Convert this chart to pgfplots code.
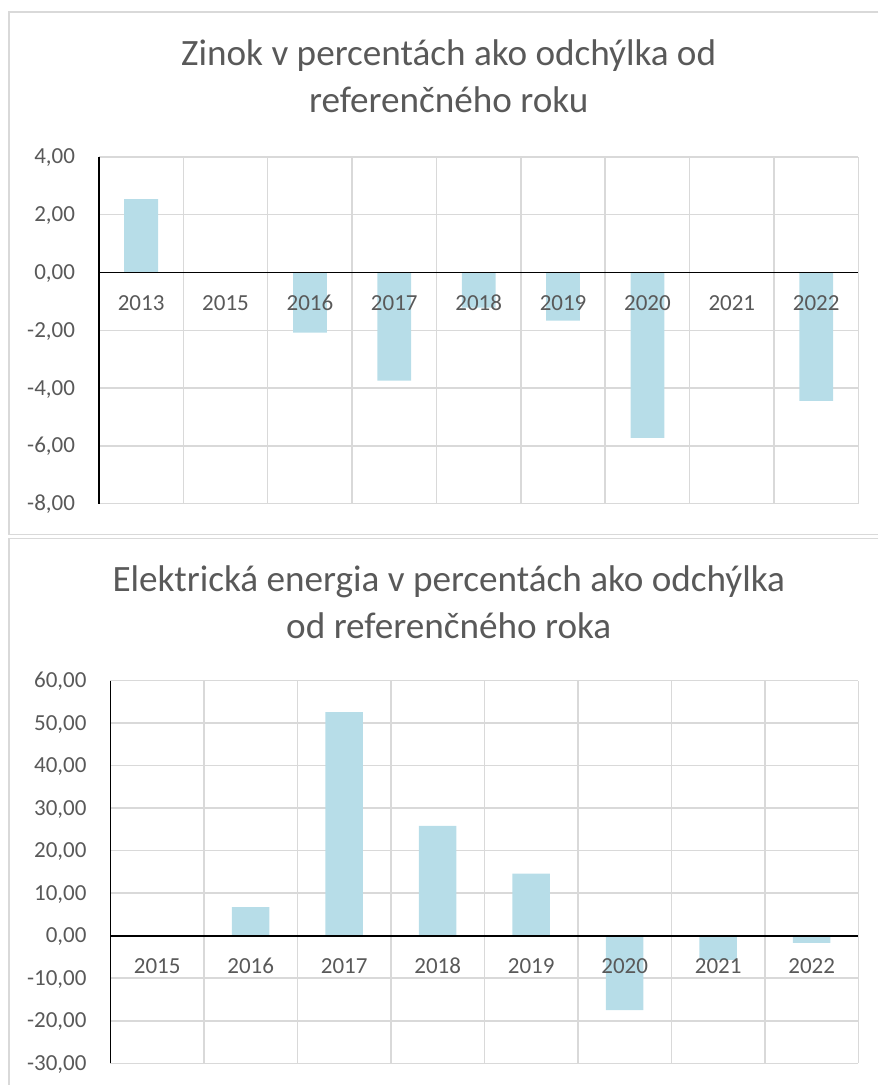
\documentclass[border=0pt]{standalone}
\usepackage{fontspec}
\setmainfont{Carlito}
\usepackage{pgfplots}
\pgfplotsset{compat=1.18}

\definecolor{barblue}{HTML}{B7DDE8}
\definecolor{gridgray}{HTML}{D9D9D9}
\definecolor{txtgray}{HTML}{595959}

% each panel = a grid+bars axis, then an overlay axis with the lines and
% tick labels so that the labels sit on top of the bars (as in Excel)
\pgfplotsset{
  panel/.style={
    scale only axis,
    anchor=south west,
    axis x line=middle,
    axis y line=left,
    hide obscured x ticks=false,
    hide obscured y ticks=false,
    major tick length=0pt, minor tick length=0pt,
  },
  gridbars/.style={
    panel,
    axis line style={draw=none},
    xticklabels={}, yticklabels={},
    ymajorgrids, xminorgrids,
    major grid style={gridgray, line width=0.75pt},
    minor grid style={gridgray, line width=0.75pt},
    ybar, bar width=0.4,
  },
  overlay/.style={
    panel,
    axis line style={-, black, line width=0.9pt},
    tick label style={font=\fontsize{11.5}{13}\selectfont, text=txtgray},
    xticklabel style={inner sep=0pt, anchor=base, yshift=-19pt},
    yticklabel style={inner sep=0pt, anchor=base east, xshift=-11.8pt, yshift=-3.5pt,
      /pgf/number format/.cd, fixed, fixed zerofill, precision=2, use comma,
      1000 sep={}, assume math mode=true},
  },
  zinok/.style={
    at={(49.5pt,-252pt)},
    width=380pt, height=173.5pt,
    xmin=-0.5, xmax=8.5, ymin=-8, ymax=4,
    xtick={0,...,8},
    minor xtick={-0.5,0.5,...,8.5},
    ytick={-8,-6,...,4},
  },
  energia/.style={
    at={(55.25pt,-532pt)},
    width=374.25pt, height=191.5pt,
    xmin=-0.5, xmax=7.5, ymin=-30, ymax=60,
    xtick={0,...,7},
    minor xtick={-0.5,0.5,...,7.5},
    ytick={-30,-20,...,60},
  },
}

\begin{document}
\begin{tikzpicture}
% page size
\path (0,0) rectangle (439.5pt,-543pt);

% chart frames (right side runs off the picture)
\draw[gridgray, line width=0.75pt] (439.5pt,-6pt) -- (4.5pt,-6pt) -- (4.5pt,-267.5pt) -- (439.5pt,-267.5pt);
\draw[gridgray, line width=0.75pt] (439.5pt,-269.5pt) -- (4.5pt,-269.5pt) -- (4.5pt,-543pt);

% titles
\begin{scope}[font=\fontsize{18.6}{22}\selectfont, text=txtgray]
\node[anchor=base, inner sep=0pt] at (224.5pt,-33pt) {Zinok v percentách ako odchýlka od};
\node[anchor=base, inner sep=0pt] at (224.5pt,-56.5pt) {referenčného roku};
\node[anchor=base, inner sep=0pt] at (224.5pt,-295.8pt) {Elektrická energia v percentách ako odchýlka};
\node[anchor=base, inner sep=0pt] at (224.5pt,-319.5pt) {od referenčného roka};
\end{scope}

% Zinok
\begin{axis}[gridbars, zinok]
\addplot[fill=barblue, draw=none] coordinates {
  (0,2.54) (1,0) (2,-2.08) (3,-3.74) (4,-1.22)
  (5,-1.67) (6,-5.72) (7,0) (8,-4.44)
};
\end{axis}
\begin{axis}[overlay, zinok,
  xticklabels={2013,2015,2016,2017,2018,2019,2020,2021,2022}]
\end{axis}

% Elektricka energia
\begin{axis}[gridbars, energia]
\addplot[fill=barblue, draw=none] coordinates {
  (0,0) (1,6.7) (2,52.6) (3,25.8) (4,14.6)
  (5,-17.5) (6,-5.7) (7,-1.7)
};
\end{axis}
\begin{axis}[overlay, energia,
  xticklabels={2015,2016,2017,2018,2019,2020,2021,2022}]
\end{axis}
\end{tikzpicture}
\end{document}
